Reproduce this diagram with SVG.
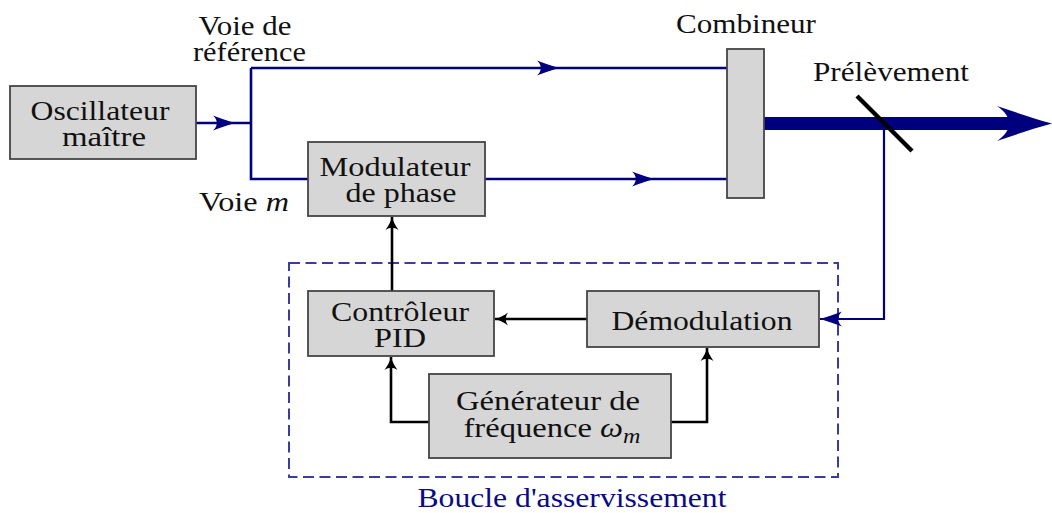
<svg xmlns="http://www.w3.org/2000/svg" width="1052" height="513" viewBox="0 0 1052 513">
<style>
.box{fill:#d6d6d6;stroke:#454545;stroke-width:1.8}
.t{font-family:"Liberation Serif","Times New Roman",Tinos,"DejaVu Serif",serif;font-size:27px;fill:#111;text-anchor:middle}
.bl{fill:none;stroke:#00007f;stroke-width:2.6}
.bk{fill:none;stroke:#000;stroke-width:2.6}
.it{font-style:italic}
</style>
<defs>
<marker id="ab" markerUnits="userSpaceOnUse" viewBox="-24 -10 26 20" markerWidth="26" markerHeight="20" refX="0" refY="0" orient="auto" overflow="visible">
<path d="M0,0 C-6,-1.5 -14,-4.5 -22,-7.5 C-17,-3 -17,3 -22,7.5 C-14,4.5 -6,1.5 0,0Z" fill="#00007f"/>
</marker>
<marker id="ak" markerUnits="userSpaceOnUse" viewBox="-16 -8 18 16" markerWidth="18" markerHeight="16" refX="0" refY="0" orient="auto" overflow="visible">
<path d="M0,0 C-4,-1 -9,-3.5 -13,-6.5 C-10,-2 -10,2 -13,6.5 C-9,3.5 -4,1 0,0Z" fill="#000"/>
</marker>
</defs>

<g id="loop">
<rect x="289" y="263" width="549" height="214" fill="none" stroke="#3b3ba6" stroke-width="2" stroke-dasharray="11,5.5"/>
<text class="t" x="572" y="507" style="fill:#0a0a86" textLength="309" lengthAdjust="spacingAndGlyphs">Boucle d'asservissement</text>
</g>

<g id="connectors">
<path class="bl" d="M196,123 L235,123" marker-end="url(#ab)"/>
<path class="bl" d="M235,123 L251,123 M251,123 L251,68 M251,123 L251,179 L308,179"/>
<path class="bl" d="M251,68 L559,68" marker-end="url(#ab)"/>
<path class="bl" d="M559,68 L727,68"/>
<path class="bl" d="M485,179 L654,179" marker-end="url(#ab)"/>
<path class="bl" d="M654,179 L727,179"/>
<rect x="764" y="117" width="248" height="13" fill="#00007f"/>
<path d="M1052,123.5 C1035,119 1015,112 997,106 C1013,117 1013,130 997,141 C1015,135 1035,128 1052,123.5Z" fill="#00007f"/>
<path class="bl" style="stroke-width:2.2" d="M884,123.5 L884,319 L820,319" marker-end="url(#ab)"/>
<line x1="857" y1="96" x2="912" y2="151" stroke="#000" stroke-width="4.5"/>
<path class="bk" d="M392,291 L392,217" marker-end="url(#ak)"/>
<path class="bk" d="M587,319 L495,319" marker-end="url(#ak)"/>
<path class="bk" d="M429,422 L391,422 L391,357" marker-end="url(#ak)"/>
<path class="bk" d="M671,422 L707,422 L707,348" marker-end="url(#ak)"/>
</g>

<g id="oscillateur">
<rect class="box" x="10" y="86" width="186" height="73"/>
<text class="t" x="100" y="120" textLength="139" lengthAdjust="spacingAndGlyphs">Oscillateur</text>
<text class="t" x="104" y="146" textLength="84" lengthAdjust="spacingAndGlyphs">maître</text>
</g>

<g id="labels">
<text class="t" x="245" y="35" textLength="93" lengthAdjust="spacingAndGlyphs">Voie de</text>
<text class="t" x="249.5" y="61" textLength="113" lengthAdjust="spacingAndGlyphs">référence</text>
<text class="t" x="244" y="211" textLength="90" lengthAdjust="spacingAndGlyphs">Voie <tspan class="it">m</tspan></text>
<text class="t" x="746" y="33" textLength="140" lengthAdjust="spacingAndGlyphs">Combineur</text>
<text class="t" x="891" y="81" textLength="156" lengthAdjust="spacingAndGlyphs">Prélèvement</text>
</g>

<g id="modulateur">
<rect class="box" x="308" y="142" width="177" height="74"/>
<text class="t" x="395" y="176" textLength="151" lengthAdjust="spacingAndGlyphs">Modulateur</text>
<text class="t" x="401" y="202" textLength="111" lengthAdjust="spacingAndGlyphs">de phase</text>
</g>

<g id="combineur">
<rect class="box" x="727" y="49" width="37" height="149"/>
</g>

<g id="controleur">
<rect class="box" x="308" y="291" width="186" height="65"/>
<text class="t" x="400" y="321" textLength="138" lengthAdjust="spacingAndGlyphs">Contrôleur</text>
<text class="t" x="400" y="347" textLength="52" lengthAdjust="spacingAndGlyphs">PID</text>
</g>

<g id="demodulation">
<rect class="box" x="587" y="291" width="232" height="56"/>
<text class="t" x="702" y="330" textLength="181" lengthAdjust="spacingAndGlyphs">Démodulation</text>
</g>

<g id="generateur">
<rect class="box" x="429" y="374" width="242" height="84"/>
<text class="t" x="548" y="410" textLength="184" lengthAdjust="spacingAndGlyphs">Générateur de</text>
<text class="t" x="552" y="437" textLength="177" lengthAdjust="spacingAndGlyphs">fréquence <tspan class="it">ω</tspan><tspan class="it" font-size="20" dy="6">m</tspan></text>
</g>
</svg>
